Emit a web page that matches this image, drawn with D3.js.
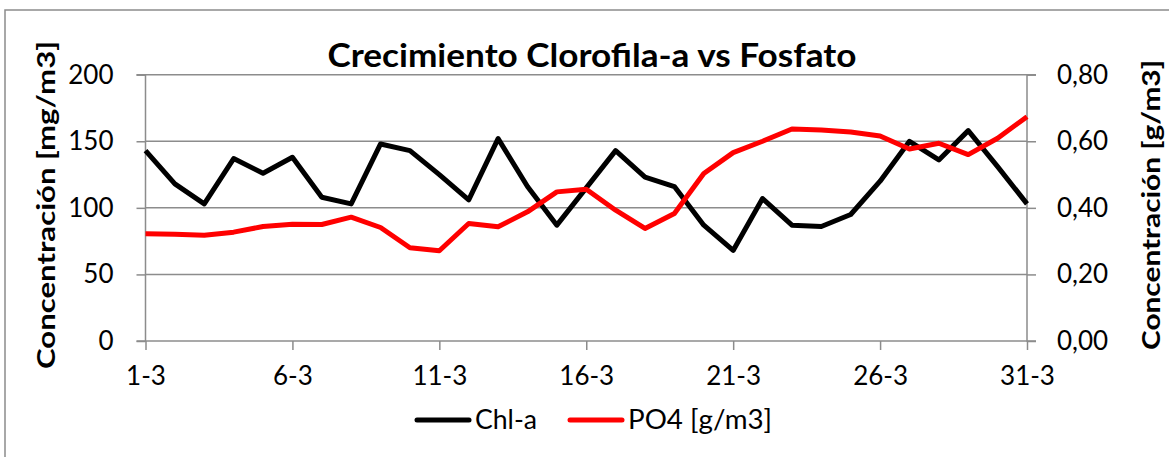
<!DOCTYPE html>
<html>
<head>
<meta charset="utf-8">
<script src="https://cdn.jsdelivr.net/npm/d3@7"></script>
<style>
  html, body { margin: 0; padding: 0; background: #fff; }
  svg { display: block; font-family: Lato, "Liberation Sans", sans-serif; }
</style>
</head>
<body>
<svg id="chart" width="1169" height="457"></svg>
<script>
// Days of March
const days = d3.range(1, 32).map(d => d + "-3");

// Chlorophyll-a concentration [mg/m3]
const chla = [143, 118, 103, 137, 126, 138, 108, 103, 148, 143,
              125, 106, 152, 116, 87, 115, 143, 123, 116, 87,
              68, 107, 87, 86, 95, 120, 150, 136, 158, 131, 103];

// Phosphate concentration [g/m3]
const po4 = [0.322, 0.321, 0.318, 0.327, 0.344, 0.351, 0.350, 0.372, 0.341, 0.280,
             0.271, 0.353, 0.343, 0.388, 0.448, 0.456, 0.393, 0.338, 0.383, 0.503,
             0.566, 0.600, 0.637, 0.634, 0.628, 0.616, 0.577, 0.594, 0.560, 0.609, 0.674];

const leftTicks = [0, 50, 100, 150, 200];
const rightTicks = [0, 0.2, 0.4, 0.6, 0.8];
const xTickDays = ["1-3", "6-3", "11-3", "16-3", "21-3", "26-3", "31-3"];

const title = "Crecimiento Clorofila-a vs Fosfato";
const leftTitle = "Concentración [mg/m3]";
const rightTitle = "Concentración [g/m3]";
const seriesNames = ["Chl-a", "PO4 [g/m3]"];

const svg = d3.select("#chart");
const grid = "#8c8c8c";
const labelSize = "26px";

const plot = { left: 145.5, right: 1027, top: 74.7, bottom: 341 };

const x = d3.scalePoint().domain(days).range([plot.left, plot.right]);
const yL = d3.scaleLinear().domain([0, 200]).range([plot.bottom, plot.top]);
const yR = d3.scaleLinear().domain([0, 0.8]).range([plot.bottom, plot.top]);

// chart frame
svg.append("rect")
  .attr("x", 5).attr("y", 10).attr("width", 1200).attr("height", 500)
  .attr("fill", "none").attr("stroke", grid).attr("stroke-width", 1.5);

// horizontal gridlines
svg.append("g").selectAll("line").data(leftTicks.filter(d => d > 0)).join("line")
  .attr("x1", plot.left).attr("x2", plot.right)
  .attr("y1", d => yL(d)).attr("y2", d => yL(d))
  .attr("stroke", grid).attr("stroke-width", 1.5);

// left axis
const axL = d3.axisLeft(yL).tickValues(leftTicks).tickSize(9).tickPadding(23)
  .tickFormat(d3.format("d"));
const gL = svg.append("g").attr("transform", `translate(${plot.left},0)`).call(axL);

// right axis
const axR = d3.axisRight(yR).tickValues(rightTicks).tickSize(9).tickPadding(21)
  .tickFormat(d => d3.format(".2f")(d).replace(".", ","));
const gR = svg.append("g").attr("transform", `translate(${plot.right},0)`).call(axR);

// bottom axis
const axB = d3.axisBottom(x).tickValues(xTickDays).tickSize(9).tickPadding(17);
const gB = svg.append("g").attr("transform", `translate(0,${plot.bottom})`).call(axB);

[gL, gR, gB].forEach(g => {
  g.select(".domain").attr("stroke", grid).attr("stroke-width", 1.5);
  g.selectAll(".tick line").attr("stroke", grid).attr("stroke-width", 1.5);
  g.selectAll("text").attr("fill", "#000").style("font-size", labelSize)
    .style("font-family", "Lato, 'Liberation Sans', sans-serif");
});
gL.select(".domain").attr("d", `M-9,${plot.top}H0V${plot.bottom}H-9`);
gR.select(".domain").attr("d", `M9,${plot.top}H0V${plot.bottom}H9`);
gB.select(".domain").attr("d", `M${plot.left},0H${plot.right}`);

// series lines
const lineL = d3.line().x((d, i) => x(days[i])).y(d => yL(d));
const lineR = d3.line().x((d, i) => x(days[i])).y(d => yR(d));

svg.append("path").datum(chla).attr("d", lineL)
  .attr("fill", "none").attr("stroke", "#000").attr("stroke-width", 5)
  .attr("stroke-linejoin", "round");
svg.append("path").datum(po4).attr("d", lineR)
  .attr("fill", "none").attr("stroke", "#ff0000").attr("stroke-width", 5)
  .attr("stroke-linejoin", "round");

// title
svg.append("text").text(title)
  .attr("x", 592).attr("y", 67).attr("text-anchor", "middle")
  .style("font-size", "33px").style("font-weight", "bold")
  .attr("textLength", 529).attr("lengthAdjust", "spacingAndGlyphs");

// axis titles
svg.append("text").text(leftTitle)
  .attr("transform", "translate(55,205) rotate(-90)")
  .attr("text-anchor", "middle")
  .style("font-size", "25px").style("font-weight", "bold")
  .attr("textLength", 328).attr("lengthAdjust", "spacingAndGlyphs");
svg.append("text").text(rightTitle)
  .attr("transform", "translate(1160,205) rotate(-90)")
  .attr("text-anchor", "middle")
  .style("font-size", "25px").style("font-weight", "bold")
  .attr("textLength", 290).attr("lengthAdjust", "spacingAndGlyphs");

// legend
const legend = svg.append("g");
const legendItems = [
  { name: seriesNames[0], color: "#000", x0: 417, w: 62 },
  { name: seriesNames[1], color: "#ff0000", x0: 570, w: 144 }
];
legendItems.forEach(it => {
  legend.append("line")
    .attr("x1", it.x0).attr("x2", it.x0 + 52).attr("y1", 420).attr("y2", 420)
    .attr("stroke", it.color).attr("stroke-width", 5).attr("stroke-linecap", "round");
  legend.append("text").text(it.name)
    .attr("x", it.x0 + 58).attr("y", 429)
    .style("font-size", labelSize)
    .attr("textLength", it.w).attr("lengthAdjust", "spacingAndGlyphs");
});
</script>
</body>
</html>
